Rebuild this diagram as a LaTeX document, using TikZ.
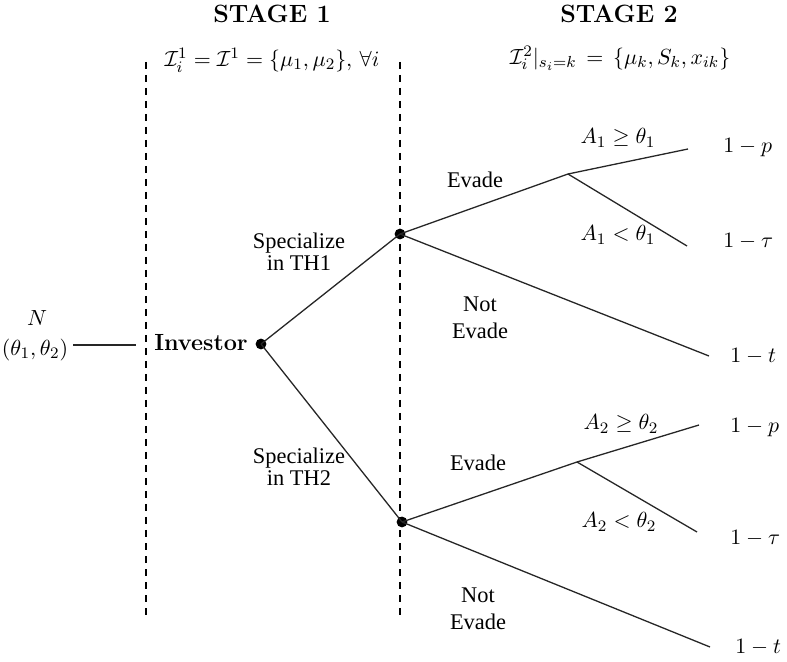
\documentclass[tikz,border=0pt]{standalone}
\usepackage{fontspec}
\newfontfamily\lblfont{Liberation Serif}
\begin{document}
\begin{tikzpicture}[x=0.5pt,y=-0.5pt,
  dot/.style={circle,fill=black,inner sep=0pt,minimum size=5.4pt},
  branch/.style={line width=0.65pt,draw=black!85},
  divider/.style={line width=1.05pt,dash pattern=on 3.6pt off 2.9pt},
  stage/.style={font=\fontsize{12.5}{14}\selectfont\bfseries,inner sep=0pt},
  mlab/.style={font=\fontsize{11.4}{13.7}\selectfont,inner sep=0pt},
  wlab/.style={font=\lblfont\fontsize{11.2}{11}\selectfont,align=center,inner sep=0pt},
  wlabb/.style={font=\lblfont\fontsize{11.2}{13.5}\selectfont,align=center,inner sep=0pt},
  invlab/.style={font=\fontsize{11.7}{13}\selectfont\bfseries,inner sep=0pt}]
\useasboundingbox (0,0) rectangle (787,662);

% headers
\node[stage] (s1) at (272,14) {STAGE 1};
\node[stage] (s2) at (619,14) {STAGE 2};
\node[mlab] (info1) at (272,60) {$\mathcal{I}_i^1=\mathcal{I}^1=\{\mu_1,\mu_2\},\,\forall i$};
\node[mlab] (info2) at (620,58) {$\mathcal{I}_i^2|_{s_i=k}\,=\,\{\mu_k,S_k,x_{ik}\}$};

% stage dividers
\coordinate (d1t) at (146,62);
\coordinate (d1b) at (146,620);
\coordinate (d2t) at (400,62);
\coordinate (d2b) at (400,620);
\draw[divider] (d1t) -- (d1b);
\draw[divider] (d2t) -- (d2b);

% nature
\node[mlab] (N) at (37,318) {$N$};
\node[mlab] (theta) at (35,350) {$(\theta_1,\theta_2)$};
\coordinate (nL) at (73,345);
\coordinate (nR) at (136,345);
\draw[branch] (nL) -- (nR);

% investor
\node[invlab] (inv) at (201,343) {Investor};
\node[dot] (i0) at (261,344) {};
\node[dot] (u) at (400,234) {};
\node[dot] (l) at (402,522) {};
\draw[branch] (i0.center) -- (u.center);
\draw[branch] (i0.center) -- (l.center);
\node[wlab] (sp1) at (299,252) {Specialize\\in TH1};
\node[wlab] (sp2) at (299,467) {Specialize\\in TH2};

% upper subtree
\coordinate (ub) at (568,174);
\coordinate (ue1) at (688,149);
\coordinate (ue2) at (687,246);
\coordinate (unt) at (709,356);
\draw[branch] (u.center) -- (ub) -- (ue1);
\draw[branch] (ub) -- (ue2);
\draw[branch] (u.center) -- (unt);
\node[wlab] (ev1) at (475,180) {Evade};
\node[wlabb] (nev1) at (480,318) {Not\\Evade};
\node[mlab] (a1ge) at (618,138) {$A_1\geq\theta_1$};
\node[mlab] (a1lt) at (618,235) {$A_1<\theta_1$};
\node[mlab,anchor=west] (p1) at (723,148) {$1-p$};
\node[mlab,anchor=west] (tau1) at (723,241) {$1-\tau$};
\node[mlab,anchor=west] (t1) at (730,356) {$1-t$};

% lower subtree
\coordinate (lb) at (577,462);
\coordinate (le1) at (699,425);
\coordinate (le2) at (697,532);
\coordinate (lnt) at (710,647);
\draw[branch] (l.center) -- (lb) -- (le1);
\draw[branch] (lb) -- (le2);
\draw[branch] (l.center) -- (lnt);
\node[wlab] (ev2) at (478,463) {Evade};
\node[wlabb] (nev2) at (478,609) {Not\\Evade};
\node[mlab] (a2ge) at (621,424) {$A_2\geq\theta_2$};
\node[mlab] (a2lt) at (619,522) {$A_2<\theta_2$};
\node[mlab,anchor=west] (p2) at (730,428) {$1-p$};
\node[mlab,anchor=west] (tau2) at (730,538) {$1-\tau$};
\node[mlab,anchor=west] (t2) at (735,647) {$1-t$};
\end{tikzpicture}
\end{document}
